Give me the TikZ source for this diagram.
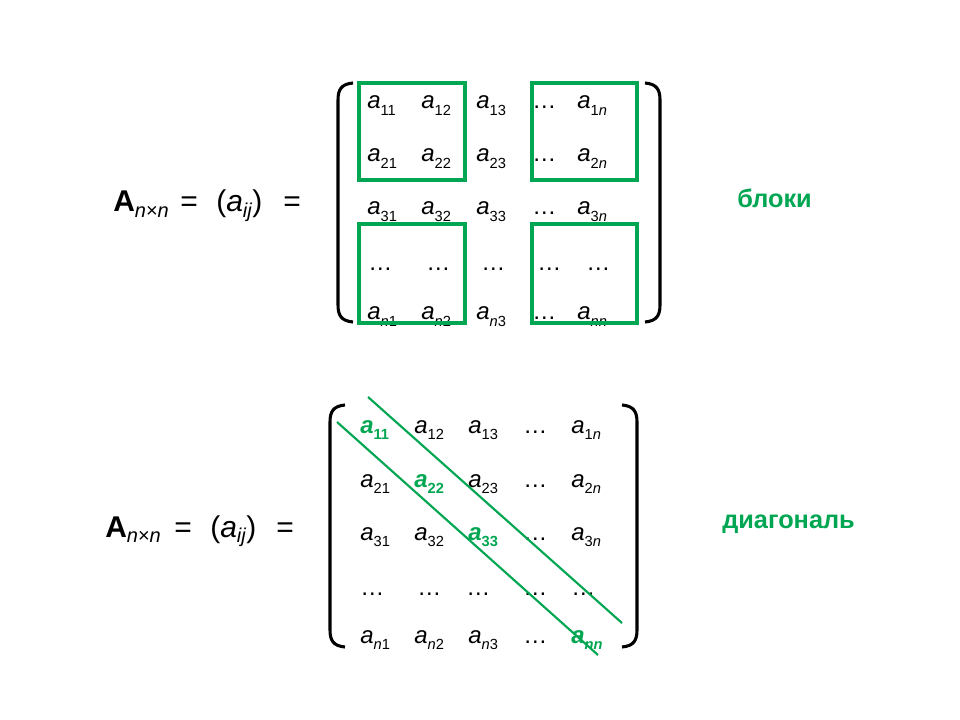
\documentclass[tikz,border=0pt]{standalone}
\usepackage{fontspec}
\setmainfont{Liberation Sans}
\definecolor{grn}{RGB}{0,166,81}
\newcommand{\mel}[1]{\textit{a}\raisebox{-5pt}{\fontsize{11}{12}\selectfont #1}}
\newcommand{\mgr}[1]{\textcolor{grn}{\textbf{\textit{a}}\raisebox{-5pt}{\fontsize{11}{12}\selectfont\bfseries #1}}}
\newcommand{\subs}[1]{\raisebox{-4pt}{\fontsize{15}{17}\selectfont #1}}
\tikzset{
  ent/.style={anchor=base west, inner sep=0pt, font=\fontsize{18}{22}\selectfont},
  lbl/.style={anchor=base west, inner sep=0pt, font=\fontsize{22.5}{26}\selectfont},
  word/.style={anchor=base west, inner sep=0pt, text=grn, font=\fontsize{19}{23}\selectfont\bfseries},
  brk/.style={line width=2.3pt, black},
  blockbox/.style={draw=grn, line width=2.4pt},
  diagline/.style={draw=grn, line width=1.6pt}
}
\begin{document}
\begin{tikzpicture}[x=0.75pt,y=-0.75pt]
\useasboundingbox (0,0) rectangle (960,720);
% ---------- top ----------
\node[lbl] (tA) at (113,212) {\textbf{A}\subs{\textit{n}×\textit{n}}};
\node[lbl] (teq1) at (180,212) {=};
\node[lbl] (tpar) at (216,212) {(\textit{a}\subs{\textit{ij}})};
\node[lbl] (teq2) at (283,212) {=};
% entries
\node[ent] (t11) at (367,109) {\mel{11}};
\node[ent] (t12) at (421,109) {\mel{12}};
\node[ent] (t13) at (476,109) {\mel{13}};
\node[ent] (t14) at (532,109) {…};
\node[ent] (t15) at (577,109) {\mel{1\textit{n}}};
\node[ent] (t21) at (367,162) {\mel{21}};
\node[ent] (t22) at (421,162) {\mel{22}};
\node[ent] (t23) at (476,162) {\mel{23}};
\node[ent] (t24) at (532,162) {…};
\node[ent] (t25) at (577,162) {\mel{2\textit{n}}};
\node[ent] (t31) at (367,215) {\mel{31}};
\node[ent] (t32) at (421,215) {\mel{32}};
\node[ent] (t33) at (476,215) {\mel{33}};
\node[ent] (t34) at (532,215) {…};
\node[ent] (t35) at (577,215) {\mel{3\textit{n}}};
\node[ent] (t41) at (368,271) {…};
\node[ent] (t42) at (426,271) {…};
\node[ent] (t43) at (481,271) {…};
\node[ent] (t44) at (537,271) {…};
\node[ent] (t45) at (586,271) {…};
\node[ent] (t51) at (367,320) {\mel{\textit{n}1}};
\node[ent] (t52) at (421,320) {\mel{\textit{n}2}};
\node[ent] (t53) at (476,320) {\mel{\textit{n}3}};
\node[ent] (t54) at (532,320) {…};
\node[ent] (t55) at (577,320) {\mel{\textit{nn}}};
% brackets
\draw[brk] (353,83) .. controls (341,84) and (338,90) .. (338,100) -- (338,305) .. controls (338,315) and (341,321) .. (353,322);
\draw[brk] (645,83) .. controls (657,84) and (660,90) .. (660,100) -- (660,305) .. controls (660,315) and (657,321) .. (645,322);
% blocks
\draw[blockbox] (359,83) rectangle (465,180);
\draw[blockbox] (532,83) rectangle (637,180);
\draw[blockbox] (359,224) rectangle (465,323);
\draw[blockbox] (532,224) rectangle (637,323);
\node[word] (blk) at (737,208) {блоки};
% ---------- bottom ----------
\node[lbl] (bA) at (105,537) {\textbf{A}\subs{\textit{n}×\textit{n}}};
\node[lbl] (beq1) at (174,537) {=};
\node[lbl] (bpar) at (210,537) {(\textit{a}\subs{\textit{ij}})};
\node[lbl] (beq2) at (276,537) {=};
\node[ent] (b11) at (360,433) {\mgr{11}};
\node[ent] (b12) at (414,433) {\mel{12}};
\node[ent] (b13) at (468,433) {\mel{13}};
\node[ent] (b14) at (523,433) {…};
\node[ent] (b15) at (571,433) {\mel{1\textit{n}}};
\node[ent] (b21) at (360,487) {\mel{21}};
\node[ent] (b22) at (414,487) {\mgr{22}};
\node[ent] (b23) at (468,487) {\mel{23}};
\node[ent] (b24) at (523,487) {…};
\node[ent] (b25) at (571,487) {\mel{2\textit{n}}};
\node[ent] (b31) at (360,540) {\mel{31}};
\node[ent] (b32) at (414,540) {\mel{32}};
\node[ent] (b33) at (468,540) {\mgr{33}};
\node[ent] (b34) at (523,540) {…};
\node[ent] (b35) at (571,540) {\mel{3\textit{n}}};
\node[ent] (b41) at (360,595) {…};
\node[ent] (b42) at (417,595) {…};
\node[ent] (b43) at (466,595) {…};
\node[ent] (b44) at (523,595) {…};
\node[ent] (b45) at (571,595) {…};
\node[ent] (b51) at (360,643) {\mel{\textit{n}1}};
\node[ent] (b52) at (414,643) {\mel{\textit{n}2}};
\node[ent] (b53) at (468,643) {\mel{\textit{n}3}};
\node[ent] (b54) at (523,643) {…};
\node[ent] (b55) at (571,643) {\mgr{\textit{nn}}};
\draw[brk] (345,405) .. controls (333,406) and (330,412) .. (330,422) -- (330,630) .. controls (330,640) and (333,646) .. (345,647);
\draw[brk] (622,405) .. controls (634,406) and (637,412) .. (637,422) -- (637,630) .. controls (637,640) and (634,646) .. (622,647);
\coordinate (d1s) at (368,397);
\coordinate (d1e) at (622,623);
\coordinate (d2s) at (337,422);
\coordinate (d2e) at (598,655);
\draw[diagline] (d1s) -- (d1e);
\draw[diagline] (d2s) -- (d2e);
\node[word] (dia) at (722,528) {диагональ};
\end{tikzpicture}
\end{document}
